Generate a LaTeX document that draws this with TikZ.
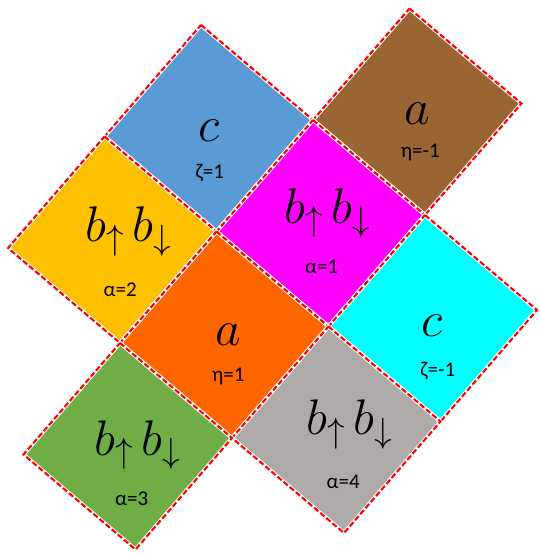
\RequirePackage{fix-cm}
\documentclass[tikz,border=0pt]{standalone}
\usepackage{fontspec}
\newfontfamily\labelfont{Carlito}
\usetikzlibrary{positioning}
\definecolor{tileBlue}{HTML}{5B9BD5}
\definecolor{tileBrown}{HTML}{996633}
\definecolor{tileYellow}{HTML}{FFC000}
\definecolor{tileMagenta}{HTML}{FF00FF}
\definecolor{tileOrange}{HTML}{FF6600}
\definecolor{tileCyan}{HTML}{00FFFF}
\definecolor{tileGray}{HTML}{AEAAAA}
\definecolor{tileGreen}{HTML}{70AD47}
\definecolor{edgeRed}{HTML}{FF0000}
\tikzset{
  tile/.style={
    fill=#1, draw=white, line width=4pt,
    postaction={draw=edgeRed, line width=2.1pt, dash pattern=on 5.5pt off 2.5pt},
  },
  sym/.style={font=\fontsize{50}{56}\selectfont, inner sep=0pt},
  lab/.style={font=\labelfont\fontsize{21}{24}\selectfont, inner sep=0pt},
}

\begin{document}
\begin{tikzpicture}[x={(112pt,-95pt)}, y={(-96.5pt,-111.5pt)}]

  \useasboundingbox (-201pt,25pt) rectangle (338pt,-529pt);

  % Tiles
  \path[tile=tileBlue]    (0,0)  -- (1,0)  -- (1,1) -- (0,1) -- cycle;
  \path[tile=tileBrown]   (1,-1) -- (2,-1) -- (2,0) -- (1,0) -- cycle;
  \path[tile=tileYellow]  (0,1)  -- (1,1)  -- (1,2) -- (0,2) -- cycle;
  \path[tile=tileMagenta] (1,0)  -- (2,0)  -- (2,1) -- (1,1) -- cycle;
  \path[tile=tileOrange]  (1,1)  -- (2,1)  -- (2,2) -- (1,2) -- cycle;
  \path[tile=tileCyan]    (2,0)  -- (3,0)  -- (3,1) -- (2,1) -- cycle;
  \path[tile=tileGray]    (2,1)  -- (3,1)  -- (3,2) -- (2,2) -- cycle;
  \path[tile=tileGreen]   (1,2)  -- (2,2)  -- (2,3) -- (1,3) -- cycle;

  % Top row
  \node[sym, yshift=-2pt] (cUp) at (0.5,0.5) {$c$};
  \node[lab, xshift=1pt, yshift=-45pt] (zetaUp) at (0.5,0.5) {ζ=1};
  \node[sym, yshift=-2pt] (aUp) at (1.5,-0.5) {$a$};
  \node[lab, xshift=3pt, yshift=-41pt] (etaUp) at (1.5,-0.5) {η=-1};

  % Middle row
  \node[sym, xshift=16pt, yshift=8pt] (bbTwo) at (0.5,1.5) {$b_\uparrow\, b_\downarrow$};
  \node[lab, xshift=8pt, yshift=-50pt] (alphaTwo) at (0.5,1.5) {α=2};
  \node[sym, xshift=7pt, yshift=10pt] (bbOne) at (1.5,0.5) {$b_\uparrow\, b_\downarrow$};
  \node[lab, xshift=1pt, yshift=-44pt] (alphaOne) at (1.5,0.5) {α=1};
  \node[sym, xshift=4pt] (aDown) at (1.5,1.5) {$a$};
  \node[lab, xshift=4pt, yshift=-42pt] (etaDown) at (1.5,1.5) {η=1};
  \node[sym, xshift=-1pt, yshift=-7pt] (cDown) at (2.5,0.5) {$c$};
  \node[lab, xshift=5pt, yshift=-53pt] (zetaDown) at (2.5,0.5) {ζ=-1};

  % Bottom row
  \node[sym, xshift=10pt, yshift=1pt] (bbThree) at (1.5,2.5) {$b_\uparrow\, b_\downarrow$};
  \node[lab, xshift=4pt, yshift=-53pt] (alphaThree) at (1.5,2.5) {α=3};
  \node[sym, xshift=13pt, yshift=5pt] (bbFour) at (2.5,1.5) {$b_\uparrow\, b_\downarrow$};
  \node[lab, xshift=7pt, yshift=-52pt] (alphaFour) at (2.5,1.5) {α=4};

\end{tikzpicture}
\end{document}
